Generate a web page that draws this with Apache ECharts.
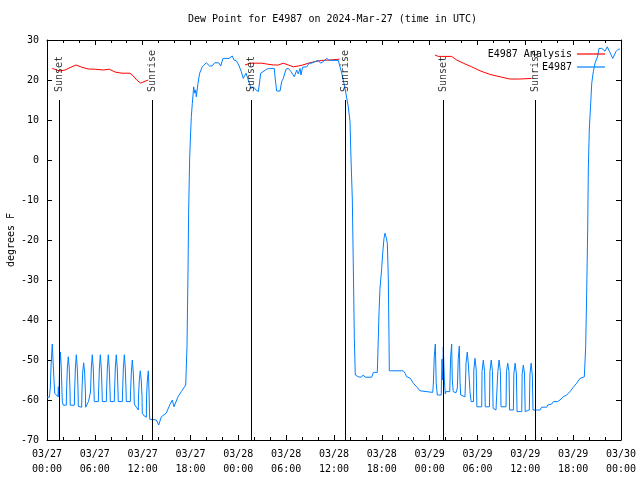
<!DOCTYPE html>
<html>
<head>
<meta charset="utf-8">
<script src="https://cdn.jsdelivr.net/npm/echarts@6/dist/echarts.min.js"></script>
<style>html,body{margin:0;padding:0;background:#fff}#c{width:640px;height:480px}</style>
</head>
<body>
<div id="c"></div>
<script>
// x values: hours since 2024-03-27 00:00 UTC
const xTickLabels = ['03/27\n00:00','03/27\n06:00','03/27\n12:00','03/27\n18:00','03/28\n00:00','03/28\n06:00','03/28\n12:00','03/28\n18:00','03/29\n00:00','03/29\n06:00','03/29\n12:00','03/29\n18:00','03/30\n00:00'];

const sunEvents = [[1.54,'Sunset'],[13.21,'Sunrise'],[25.68,'Sunset'],[37.38,'Sunrise'],[49.71,'Sunset'],[61.25,'Sunrise']];

const analysisNight1 = [[0.66,22.9],[1.22,22.5],[1.63,22.25],[2.26,22.5],[2.89,23.1],[3.64,23.75],[4.35,23.2],[5.18,22.75],[6.02,22.7],[7.06,22.5],[7.81,22.7],[8.53,22],[9.37,21.7],[10.41,21.7],[10.83,21],[11.25,20],[11.75,19.2],[12.17,19.6],[12.71,20]];
const analysisNight2 = [[24.84,23.75],[25.47,24.2],[26.93,24.2],[27.56,24],[28.39,23.75],[29.01,23.75],[29.64,24.2],[30.27,23.75],[30.9,23.3],[31.52,23.5],[32.07,23.75],[32.78,24.2],[33.62,24.6],[34.46,24.9],[35.5,25],[36.67,25.2]];
const analysisNight3 = [[48.67,26.25],[49.08,25.9],[50.76,25.9],[51.39,25],[52.22,24.2],[53.27,23.3],[54.31,22.3],[55.56,21.4],[56.82,20.8],[58.07,20.25],[59.33,20.25],[60.8,20.4]];

const station = [
[0.0,-59.3],[0.3,-59.3],[0.41,-57],[0.52,-51],[0.66,-46],[0.78,-51],[0.9,-56],[0.97,-58.3],[1.22,-58.75],[1.38,-59.2],[1.42,-56.7],[1.48,-59.2],
[1.5,-58],[1.58,-52],[1.67,-48],[1.78,-51.4],[1.86,-56.7],[1.92,-60.4],[2.04,-61.3],
[2.42,-61.3],[2.45,-58],[2.55,-52],[2.67,-49.2],[2.79,-52],[2.89,-58],[2.92,-61.3],
[3.43,-61.3],[3.46,-58],[3.56,-52],[3.68,-48.7],[3.8,-52],[3.9,-58],[3.93,-61.6],
[4.35,-61.8],[4.38,-58],[4.48,-53],[4.6,-50.7],[4.72,-53],[4.82,-58],[4.85,-61.8],[5.0,-61.5],[5.2,-60.4],
[5.43,-60.4],[5.46,-58],[5.56,-52],[5.68,-48.7],[5.8,-52],[5.9,-58],[5.93,-60.4],
[6.44,-60.4],[6.47,-58],[6.57,-52],[6.69,-48.7],[6.81,-52],[6.91,-58],[6.94,-60.4],
[7.44,-60.4],[7.47,-58],[7.57,-52],[7.69,-48.7],[7.81,-52],[7.91,-58],[7.94,-60.4],
[8.44,-60.4],[8.47,-58],[8.57,-52],[8.69,-48.7],[8.81,-52],[8.91,-58],[8.94,-60.4],
[9.45,-60.4],[9.48,-58],[9.58,-52],[9.7,-48.7],[9.82,-52],[9.92,-58],[9.95,-60.4],
[10.45,-60.4],[10.48,-58],[10.58,-53],[10.7,-50],[10.82,-53],[10.92,-58],[10.95,-61],[11.2,-61.8],
[11.45,-62.5],[11.48,-59],[11.58,-55],[11.7,-52.7],[11.82,-55],[11.92,-59],[11.95,-63.3],[12.2,-64],
[12.46,-64.3],[12.49,-59],[12.59,-55],[12.71,-52.7],[12.8,-58],[12.88,-64.8],[13.0,-65],
[13.71,-65],[14.01,-66.25],[14.34,-64.2],[14.96,-63.3],[15.39,-61.25],[15.72,-60],[15.93,-61.7],[16.43,-59.2],[16.85,-57.9],[17.4,-56.25],
[17.56,-46.7],[17.69,-27.5],[17.77,-12.5],[17.9,0.8],[18.03,7.5],[18.1,10.8],[18.23,14.2],[18.4,18.3],[18.53,16.7],[18.65,17.5],[18.73,15.8],[18.94,19.2],[19.15,21.7],[19.48,23.3],[19.98,24.3],[20.41,23.5],[20.7,23.5],[21.04,24.3],[21.54,24.3],[21.79,23.5],[22.08,25.4],[22.83,25.4],[23.04,25],[23.24,26],[23.46,25],[23.75,24.8],[24.05,23.75],[24.37,22.1],[24.62,20.4],[24.96,21.7],[25.25,20],
[25.59,17.9],[25.88,18.3],[26.22,17.5],[26.51,17.1],[26.81,21.7],[27.06,22],[27.56,22.7],[27.89,22.9],[28.51,22.9],[28.6,20.8],[28.81,17.25],[29.23,17.25],[29.44,19.6],[29.64,20.4],[29.98,22.7],[30.27,22.9],[30.61,22.1],[31.02,20.8],[31.32,22.5],[31.52,21.5],[31.74,22.9],[31.86,21.25],[32.07,23.2],[32.58,23.3],[32.87,24.2],[33.2,24.2],[33.62,24.6],[33.83,24.4],[34.03,24.9],[34.33,24.2],[34.66,24.6],[35.09,25.4],[35.41,24.9],[36.54,24.9],[36.75,25],
[36.97,21.7],[37.38,17.9],[37.79,13.3],[38.01,9.6],[38.1,2.5],[38.3,-10],[38.42,-26.25],[38.55,-44.6],[38.67,-53.75],[39.05,-54.2],[39.39,-54.3],[39.68,-53.75],[39.89,-54.3],[40.73,-54.3],[40.93,-53.1],[41.43,-53.1],
[41.48,-50],[41.65,-37.9],[41.77,-32.1],[41.98,-27.1],[42.11,-23.3],[42.27,-19.6],[42.4,-18.3],[42.52,-19.2],[42.69,-20.8],[42.81,-29.2],[42.9,-44.6],[42.94,-52.7],[44.69,-52.7],[44.91,-53.3],[45.12,-54.2],[45.53,-54.5],[45.95,-55.8],[46.37,-56.7],[46.79,-57.7],[47.0,-58.1],[48.38,-58.1],
[48.46,-56],[48.58,-49],[48.71,-46],[48.82,-55.8],[48.96,-58.75],[49.45,-58.75],
[49.55,-49.8],[49.62,-55],[49.71,-46.7],[49.84,-55],[49.96,-58.5],[50.05,-57.9],
[50.52,-57.9],[50.58,-53],[50.64,-49],[50.76,-46],[50.84,-55],[50.96,-57.9],[51.3,-58.2],
[51.47,-57],[51.59,-49.6],[51.72,-46.5],[51.8,-55],[51.89,-58.75],[52.14,-59.2],[52.43,-59.2],
[52.5,-55],[52.56,-50.8],[52.72,-48],[52.85,-51],[53.06,-57.9],[53.19,-60.4],[53.5,-60.4],
[53.54,-52.5],[53.69,-49.6],[53.84,-52.5],[53.92,-61.7],[54.53,-61.7],
[54.57,-52.9],[54.73,-50],[54.89,-52.9],[54.97,-61.7],[55.5,-61.7],
[55.56,-52.9],[55.72,-50],[55.88,-52.9],[55.96,-62.1],[56.32,-62.5],[56.5,-62.1],
[56.55,-52.9],[56.71,-50],[56.87,-52.9],[56.95,-61.7],[57.58,-61.7],
[57.63,-52.9],[57.79,-50.8],[57.95,-52.9],[58.03,-62.5],[58.5,-62.5],
[58.56,-53.5],[58.72,-50.8],[58.88,-53.5],[58.96,-62.9],[59.55,-62.9],
[59.6,-53.5],[59.75,-51.25],[59.9,-53.5],[59.98,-62.9],[60.5,-62.5],
[60.58,-53.5],[60.73,-50.8],[60.88,-54],[60.96,-62.5],[61.84,-62.5],
[62.05,-61.8],[62.68,-61.8],[62.81,-61.25],[63.31,-61.0],[63.51,-60.4],[64.01,-60.4],[64.35,-60],[64.76,-59.2],[65.19,-58.75],[65.6,-57.9],[66.02,-56.8],[66.44,-55.8],[66.86,-54.6],[67.4,-54.2],
[67.57,-46.7],[67.7,-32.5],[67.82,-17.5],[67.9,-2.5],[68.02,7.5],[68.2,14.2],[68.33,19.2],[68.53,22.1],[68.74,24.2],[69.08,26],[69.24,27.9],[69.58,27.9],[69.78,27.5],[69.99,27.2],[70.28,28.3],[70.53,27.9],[70.96,25.4],[71.37,27.1],[71.66,27.7],[71.87,27.7]
];

const FONT = 'DejaVu Sans Mono';
const chart = echarts.init(document.getElementById('c'), null, {renderer:'canvas'});

const xBase = {
  type:'value', min:0, max:72, interval:6,
  axisLine:{show:true, onZero:false, lineStyle:{color:'#000', width:1}},
  axisTick:{show:true, inside:true, length:5, lineStyle:{color:'#000'}},
  minorTick:{show:true, splitNumber:3, length:3, lineStyle:{color:'#000'}},
  splitLine:{show:false}
};
const yBase = {
  type:'value', min:-70, max:30, interval:10,
  axisLine:{show:true, onZero:false, lineStyle:{color:'#000', width:1}},
  axisTick:{show:true, inside:true, length:5, lineStyle:{color:'#000'}},
  splitLine:{show:false}
};

const redStyle = {color:'#ff0000', width:1};
const blueStyle = {color:'#0080ff', width:1};
const lineIcon = 'path://M0,0L28,0L28,1.2L0,1.2Z';

chart.setOption({
  animation:false,
  backgroundColor:'#fff',
  grid:{left:47, right:19, top:40, bottom:40, outerBoundsMode:'none'},
  graphic:[{
    type:'text', left:332 - 144, top:14,
    style:{text:'Dew Point for E4987 on 2024-Mar-27 (time in UTC)', font:'10px "DejaVu Sans Mono"', fill:'#000'}
  }],
  legend:{
    data:[{name:'E4987 Analysis', icon:lineIcon},{name:'E4987', icon:lineIcon}],
    orient:'vertical', right:30, top:44, align:'right',
    itemWidth:28, itemHeight:10, itemGap:3,
    textStyle:{fontFamily:FONT, fontSize:10, color:'#000'},
    selectedMode:false
  },
  xAxis:[
    Object.assign({}, xBase, {position:'bottom',
      axisLabel:{show:true, margin:7, fontFamily:FONT, fontSize:10, color:'#000', lineHeight:15,
        formatter:(v)=>xTickLabels[Math.round(v/6)]}}),
    Object.assign({}, xBase, {position:'top', axisLabel:{show:false}})
  ],
  yAxis:[
    Object.assign({}, yBase, {position:'left',
      name:'degrees F', nameLocation:'middle', nameRotate:90, nameGap:31, nameMoveOverlap:false,
      nameTextStyle:{fontFamily:FONT, fontSize:10, color:'#000'},
      axisLabel:{show:true, margin:8, fontFamily:FONT, fontSize:10, color:'#000'}}),
    Object.assign({}, yBase, {position:'right', axisLabel:{show:false}})
  ],
  series:[
    {name:'E4987 Analysis', type:'line', data:analysisNight1, symbol:'none', lineStyle:redStyle, itemStyle:{color:'#ff0000'}, z:2},
    {name:'E4987 Analysis', type:'line', data:analysisNight2, symbol:'none', lineStyle:redStyle, itemStyle:{color:'#ff0000'}, z:2},
    {name:'E4987 Analysis', type:'line', data:analysisNight3, symbol:'none', lineStyle:redStyle, itemStyle:{color:'#ff0000'}, z:2},
    {name:'E4987', type:'line', data:station, symbol:'none', lineStyle:blueStyle, itemStyle:{color:'#0080ff'}, z:3},
    {type:'scatter', data:sunEvents.map(e=>[e[0],17,e[1]]), symbolSize:1,
      itemStyle:{color:'rgba(0,0,0,0)'}, z:4, silent:true,
      label:{show:true, position:'inside', rotate:90, align:'left', verticalAlign:'middle',
        formatter:(p)=>p.data[2], fontFamily:FONT, fontSize:10, color:'#000'},
      markLine:{silent:true, symbol:['none','none'], label:{show:false},
        lineStyle:{color:'#000', width:1, type:'solid'},
        data:sunEvents.map(e=>[{coord:[e[0],15]},{coord:[e[0],-70]}])}
    }
  ]
});
</script>
</body>
</html>
